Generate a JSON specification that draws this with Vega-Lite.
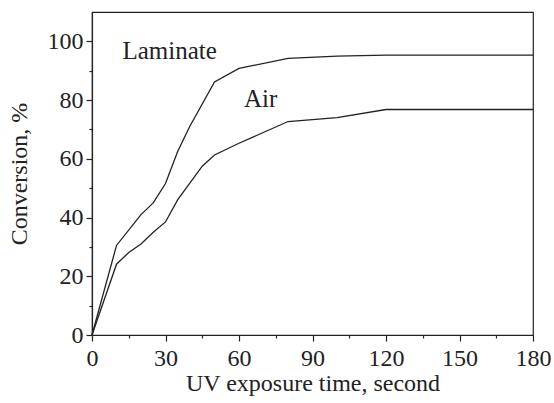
{
  "$schema": "https://vega.github.io/schema/vega-lite/v6.json",
  "width": 441,
  "height": 323,
  "autosize": "none",
  "padding": {"left": 92, "top": 12, "right": 21, "bottom": 68},
  "background": "white",
  "config": {
    "view": {"stroke": "#222", "strokeWidth": 1.2},
    "font": "Liberation Serif, Times New Roman, serif",
    "axis": {
      "labelFont": "Liberation Serif, Times New Roman, serif",
      "titleFont": "Liberation Serif, Times New Roman, serif",
      "labelFontSize": 24,
      "titleFontSize": 24,
      "titleFontWeight": "normal",
      "labelColor": "#222",
      "titleColor": "#222",
      "domainColor": "#222",
      "tickColor": "#222",
      "domainWidth": 1.2,
      "tickWidth": 1.2,
      "grid": false
    }
  },
  "datasets": {
    "curves": [
      {"series": "Laminate", "time": 0, "conversion": 0},
      {"series": "Laminate", "time": 10, "conversion": 30.5},
      {"series": "Laminate", "time": 20, "conversion": 41},
      {"series": "Laminate", "time": 25, "conversion": 45},
      {"series": "Laminate", "time": 30, "conversion": 51.6},
      {"series": "Laminate", "time": 35, "conversion": 62.6},
      {"series": "Laminate", "time": 40, "conversion": 71.2},
      {"series": "Laminate", "time": 50, "conversion": 86.2},
      {"series": "Laminate", "time": 60, "conversion": 90.8},
      {"series": "Laminate", "time": 80, "conversion": 94.2},
      {"series": "Laminate", "time": 100, "conversion": 95.0},
      {"series": "Laminate", "time": 120, "conversion": 95.3},
      {"series": "Laminate", "time": 180, "conversion": 95.3},
      {"series": "Air", "time": 0, "conversion": 0},
      {"series": "Air", "time": 10, "conversion": 24.1},
      {"series": "Air", "time": 15, "conversion": 28.1},
      {"series": "Air", "time": 20, "conversion": 31.0},
      {"series": "Air", "time": 25, "conversion": 35.0},
      {"series": "Air", "time": 30, "conversion": 38.5},
      {"series": "Air", "time": 35, "conversion": 46.1},
      {"series": "Air", "time": 40, "conversion": 51.8},
      {"series": "Air", "time": 45, "conversion": 57.5},
      {"series": "Air", "time": 50, "conversion": 61.3},
      {"series": "Air", "time": 60, "conversion": 65.3},
      {"series": "Air", "time": 80, "conversion": 72.7},
      {"series": "Air", "time": 100, "conversion": 74.0},
      {"series": "Air", "time": 120, "conversion": 76.8},
      {"series": "Air", "time": 180, "conversion": 76.8}
    ],
    "labels": [
      {"label": "Laminate", "time": 12.4, "conversion": 96.6},
      {"label": "Air", "time": 62, "conversion": 80.5}
    ]
  },
  "layer": [
    {
      "data": {"name": "curves"},
      "mark": {"type": "line", "color": "#222", "strokeWidth": 1.3},
      "encoding": {
        "x": {
          "field": "time",
          "type": "quantitative",
          "scale": {"domain": [0, 180], "nice": false, "zero": false},
          "axis": {
            "orient": "bottom",
            "title": "UV exposure time, second",
            "values": [0, 30, 60, 90, 120, 150, 180],
            "tickSize": 6,
            "labelPadding": 5,
            "titlePadding": 1,
            "labelFlush": false
          }
        },
        "y": {
          "field": "conversion",
          "type": "quantitative",
          "scale": {"domain": [0, 110], "nice": false},
          "axis": {
            "orient": "left",
            "title": "Conversion, %",
            "values": [0, 20, 40, 60, 80, 100],
            "tickSize": 6,
            "labelPadding": 3,
            "titlePadding": 16,
            "labelFlush": false
          }
        },
        "detail": {"field": "series"}
      }
    },
    {
      "data": {"name": "labels"},
      "mark": {"type": "text", "align": "left", "baseline": "middle", "fontSize": 25, "font": "Liberation Serif, Times New Roman, serif", "color": "#222"},
      "encoding": {
        "x": {
          "field": "time",
          "type": "quantitative",
          "axis": {
            "orient": "bottom",
            "title": null,
            "labels": false,
            "domain": false,
            "values": [15, 45, 75, 105, 135, 165],
            "tickSize": 3
          }
        },
        "y": {
          "field": "conversion",
          "type": "quantitative",
          "axis": {
            "orient": "left",
            "title": null,
            "labels": false,
            "domain": false,
            "values": [10, 30, 50, 70, 90],
            "tickSize": 3
          }
        },
        "text": {"field": "label"}
      }
    }
  ],
  "resolve": {"axis": {"x": "independent", "y": "independent"}}
}
